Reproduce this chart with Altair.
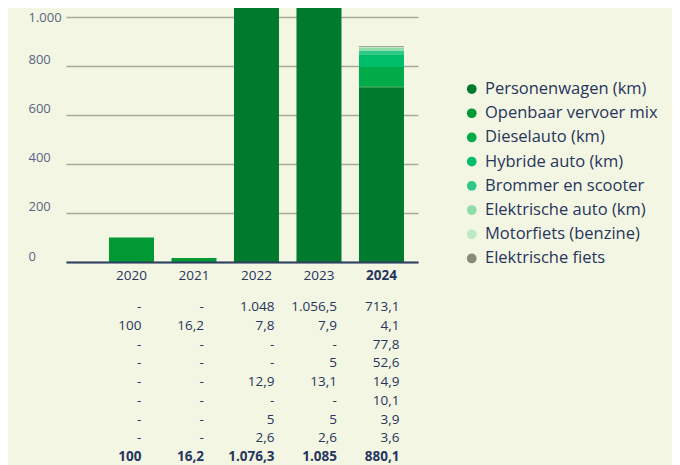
import altair as alt
import pandas as pd

years = ["2020", "2021", "2022", "2023", "2024"]
categories = [
    "Personenwagen (km)",
    "Openbaar vervoer mix",
    "Dieselauto (km)",
    "Hybride auto (km)",
    "Brommer en scooter",
    "Elektrische auto (km)",
    "Motorfiets (benzine)",
    "Elektrische fiets",
]
colors = ["#007a2c", "#009933", "#00ab48", "#00bd6a", "#2ec98a", "#8fdcaa", "#bde8c4", "#888a7a"]

personenwagen = [None, None, 1048, 1056.5, 713.1]
openbaar_vervoer = [100, 16.2, 7.8, 7.9, 4.1]
dieselauto = [None, None, None, None, 77.8]
hybride_auto = [None, None, None, 5, 52.6]
brommer = [None, None, 12.9, 13.1, 14.9]
elektrische_auto = [None, None, None, None, 10.1]
motorfiets = [None, None, 5, 5, 3.9]
elektrische_fiets = [None, None, 2.6, 2.6, 3.6]
totals = [100, 16.2, 1076.3, 1085, 880.1]

series = [personenwagen, openbaar_vervoer, dieselauto, hybride_auto, brommer,
          elektrische_auto, motorfiets, elektrische_fiets]

NAVY = "#27355e"
BG = "#f3f6e2"
FONT = "Open Sans"


def nl(v):
    if v is None:
        return "-"
    if float(v).is_integer():
        return f"{int(v):,}".replace(",", ".")
    s = f"{v:,.1f}"
    return s.replace(",", "X").replace(".", ",").replace("X", ".")


bar_rows = []
for ci, (cat, vals) in enumerate(zip(categories, series)):
    for y, v in zip(years, vals):
        if v is not None:
            bar_rows.append({"year": y, "category": cat, "value": v, "order": ci})
bar_df = pd.DataFrame(bar_rows)

row_ids = [f"r{i}" for i in range(len(series) + 1)]
tbl_rows = []
for ri, vals in enumerate(series + [totals]):
    for yi, (y, v) in enumerate(zip(years, vals)):
        tbl_rows.append({
            "year": y, "row": row_ids[ri], "label": nl(v),
            "bold": ri == len(series), "early": yi < 2,
        })
tbl_df = pd.DataFrame(tbl_rows)

W, H = 352, 254
xscale = alt.Scale(domain=years, paddingInner=0.28, paddingOuter=0.456, align=0.754)
xaxis = alt.Axis(ticks=False, labelPadding=6, labelFontSize=13.5, labelColor=NAVY,
                 labelFont=FONT, labelAngle=0, title=None,
                 labelFontWeight=alt.ExprRef(expr="datum.value == '2024' ? 'bold' : 'normal'"),
                 domainColor="#2d3f63", domainWidth=2, grid=False, zindex=1)

bars = alt.Chart(bar_df).mark_bar(clip=True).encode(
    x=alt.X("year:N", scale=xscale, title=None, axis=xaxis),
    y=alt.Y("value:Q", stack="zero", title=None,
            scale=alt.Scale(domain=[0, 1036], nice=False, zero=True),
            axis=alt.Axis(values=[0, 200, 400, 600, 800, 1000], grid=True, gridColor="#a9ab98",
                          gridWidth=1.5, domain=False, ticks=False, tickSize=0,
                          labelAlign="left", labelPadding=38, labelBaseline="middle",
                          labelOffset=alt.ExprRef(expr="datum.value >= 1000 ? 1 : -6"),
                          labelFontSize=13, labelColor="#5a6585", labelFont=FONT,
                          labelExpr="replace(format(datum.value, ','), ',', '.')")),
    color=alt.Color("category:N", scale=alt.Scale(domain=categories, range=colors),
                    legend=alt.Legend(orient="none", legendX=397.5, legendY=72.8, title=None,
                                      symbolType="circle", symbolSize=95, symbolStrokeWidth=0,
                                      labelFontSize=16.5, labelColor=NAVY, labelFont=FONT,
                                      rowPadding=7.2, labelOffset=5, padding=0, labelLimit=300)),
    order=alt.Order("order:Q", sort="ascending"),
)


def table_layer(early, bold, dx):
    return alt.Chart(tbl_df).transform_filter(
        f"datum.early == {'true' if early else 'false'} && datum.bold == {'true' if bold else 'false'}"
    ).mark_text(align="right", baseline="middle", fontSize=13.5, color=NAVY, font=FONT,
                fontWeight="bold" if bold else "normal", dx=dx).encode(
        x=alt.X("year:N", scale=xscale, title=None, axis=xaxis),
        y=alt.Y("row:N", scale=alt.Scale(type="point", domain=row_ids, range=[299.0, 449.0], padding=0),
                axis=None),
        text="label:N",
    )


table = alt.layer(
    table_layer(True, False, 10),
    table_layer(False, False, 18),
    table_layer(True, True, 10),
    table_layer(False, True, 18),
)

chart = alt.layer(bars, table).resolve_scale(y="independent").properties(
    width=W, height=H,
    autosize=alt.AutoSizeParams(type="none"),
    padding={"left": 58, "top": 0, "right": 254, "bottom": 203},
    background=BG,
).configure_view(stroke=None)

chart.save("out.html", embed_options={"renderer": "svg", "actions": False})
